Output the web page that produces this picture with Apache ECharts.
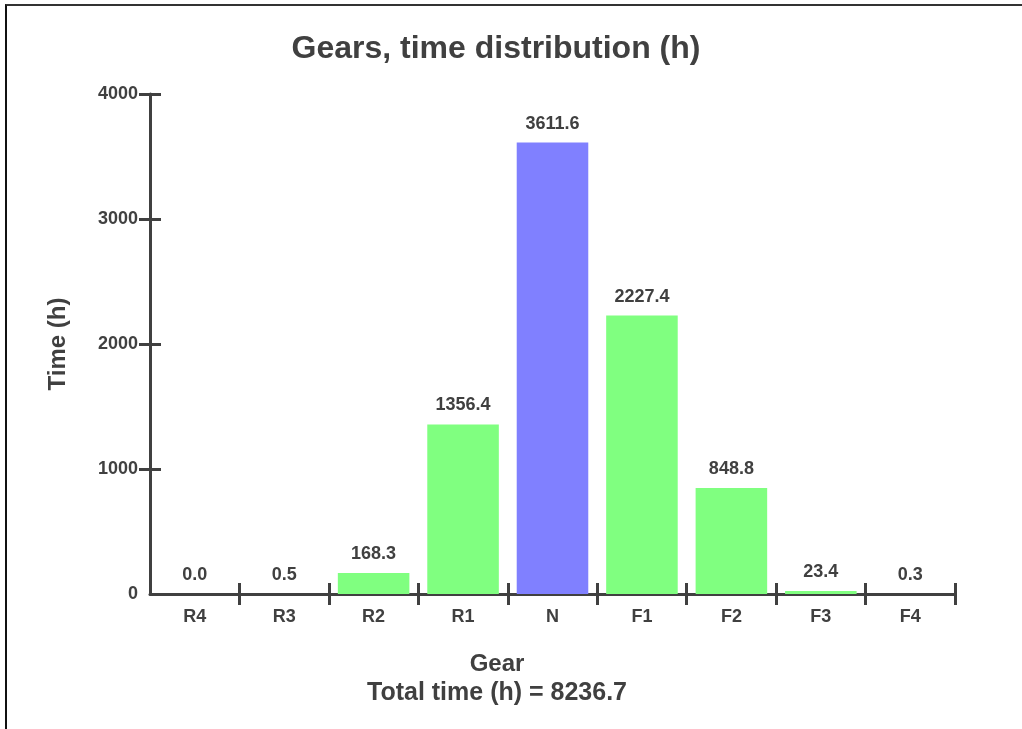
<!DOCTYPE html>
<html>
<head>
<meta charset="utf-8">
<script src="https://cdn.jsdelivr.net/npm/echarts@6/dist/echarts.min.js"></script>
<style>
	html,body{margin:0;padding:0;background:#fff;}
	.frame{position:absolute;left:5px;top:4px;width:1017px;height:725px;border-top:2px solid #333;border-left:2px solid #111;box-sizing:border-box;}
	#chart{position:absolute;left:0;top:0;width:1022px;height:729px;}
</style>
</head>
<body>
<div class="frame"></div>
<div id="chart"></div>
<script>
	var gears = ['R4','R3','R2','R1','N','F1','F2','F3','F4'];
	var hours = [0.0, 0.5, 168.3, 1356.4, 3611.6, 2227.4, 848.8, 23.4, 0.3];
	var yTicks = [0, 1000, 2000, 3000, 4000];
	var totalHours = 8236.7;

	var textColor = '#404040';
	var fontName = '"Liberation Sans", Arial, sans-serif';

	var chart = echarts.init(document.getElementById('chart'));
	chart.setOption({
		animation:false,
		textStyle:{fontFamily:fontName},
		title:[{
			text:'Gears, time distribution (h)',
			left:491, top:28, textAlign:'center',
			textStyle:{fontSize:32,fontWeight:'bold',color:textColor,fontFamily:fontName}
		},{
			text:'Gear',
			left:492, top:647, textAlign:'center',
			textStyle:{fontSize:24,fontWeight:'bold',color:textColor,fontFamily:fontName}
		},{
			text:'Total time (h) = ' + totalHours.toFixed(1),
			left:492, top:676, textAlign:'center',
			textStyle:{fontSize:25,fontWeight:'bold',color:textColor,fontFamily:fontName}
		}],
		grid:{left:150,right:67,top:94,bottom:135},
		xAxis:[{
			type:'category',
			data:gears,
			axisLine:{lineStyle:{color:textColor,width:3}},
			axisTick:{show:true,length:11,lineStyle:{color:textColor,width:3},
				interval:function(i){return i !== 0;}},
			axisLabel:{margin:14,fontSize:18,fontWeight:'bold',color:textColor,fontFamily:fontName}
		},{
			type:'category',
			data:gears,
			position:'bottom',
			axisLine:{show:false},
			axisLabel:{show:false},
			axisTick:{show:true,inside:true,length:11,lineStyle:{color:textColor,width:3},
				interval:function(i){return i !== 0;}}
		}],
		yAxis:[{
			type:'value',
			min:0,max:4000,interval:1000,
			name:'Time (h)',
			nameLocation:'middle',
			nameGap:80,
			nameTextStyle:{fontSize:24,fontWeight:'bold',color:textColor,fontFamily:fontName},
			splitLine:{show:false},
			axisLine:{show:true,lineStyle:{color:textColor,width:3}},
			axisTick:{show:true,length:11,lineStyle:{color:textColor,width:3},customValues:yTicks.slice(1)},
			axisLabel:{margin:12,fontSize:18,fontWeight:'bold',color:textColor,fontFamily:fontName,
				formatter:function(v){return String(v);}}
		},{
			type:'value',
			min:0,max:4000,interval:1000,
			position:'left',
			splitLine:{show:false},
			axisLine:{show:false},
			axisLabel:{show:false},
			axisTick:{show:true,inside:true,length:11,lineStyle:{color:textColor,width:3},customValues:yTicks.slice(1)}
		}],
		series:[{
			type:'bar',
			data:hours.map(function(v,i){
				return {value:v,itemStyle:{color:gears[i] === 'N' ? '#8080FF' : '#80FF80'}};
			}),
			barCategoryGap:'20%',
			label:{
				show:true,position:'top',distance:10,
				fontSize:18,fontWeight:'bold',color:textColor,fontFamily:fontName,
				formatter:function(p){return p.value.toFixed(1);}
			}
		}]
	});
</script>
</body>
</html>
